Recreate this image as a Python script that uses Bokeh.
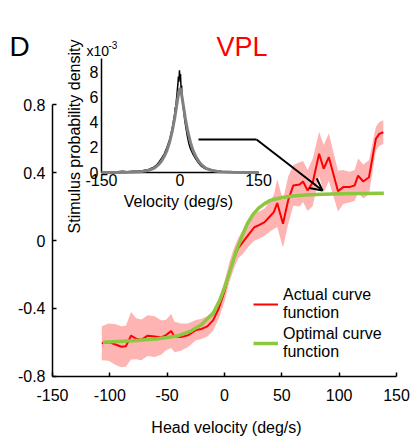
import math
from bokeh.plotting import figure
from bokeh.models import (Range1d, LinearAxis, FixedTicker, Label, Arrow, OpenHead,
                          Legend, LegendItem)
from bokeh.embed import file_html
from bokeh.resources import INLINE

FONT = "Liberation Sans"

# ---------------- data ----------------
# main panel: actual tuning curve (mean) and its band half-width
act_x = [-107, -101, -95, -90, -86, -81.5, -77, -72.5, -67, -61, -55, -51, -46.5, -43.5,
         -38, -32, -25, -20, -15, -10, -5, 0, 4.5, 8.5, 12, 16, 21.5, 26, 30.5, 35, 39.5,
         43, 46, 51, 55.5, 60, 65.5, 68.5, 72.5, 77, 82.5, 86.5, 91, 99, 103.5, 109,
         113.5, 116.5, 121, 126, 132, 135, 138.5]
act_y = [-0.604, -0.598, -0.612, -0.625, -0.622, -0.56, -0.578, -0.585, -0.56, -0.565,
         -0.57, -0.556, -0.533, -0.568, -0.568, -0.558, -0.527, -0.52, -0.505, -0.47,
         -0.40, -0.30, -0.18, -0.10, -0.045, -0.01, 0.039, 0.078, 0.092, 0.108, 0.141,
         0.167, 0.22, 0.098, 0.235, 0.324, 0.33, 0.347, 0.294, 0.343, 0.51, 0.422, 0.49,
         0.29, 0.314, 0.314, 0.324, 0.382, 0.347, 0.372, 0.598, 0.627, 0.637]
act_err = [0.10, 0.11, 0.12, 0.12, 0.12, 0.14, 0.12, 0.12, 0.12, 0.12, 0.10, 0.09, 0.10,
           0.09, 0.08, 0.07, 0.06, 0.06, 0.06, 0.06, 0.06, 0.06, 0.06, 0.06, 0.06, 0.07,
           0.07, 0.08, 0.08, 0.08, 0.09, 0.10, 0.14, 0.14, 0.14, 0.12, 0.13, 0.12, 0.12,
           0.14, 0.13, 0.14, 0.14, 0.12, 0.10, 0.09, 0.09, 0.10, 0.10, 0.10, 0.07, 0.07, 0.07]

# optimal tuning curve
opt_x = [-106, -80, -60, -50, -40, -30, -25, -20, -15, -10, -5, 0, 5, 10, 15, 20, 25, 30,
         35, 40, 50, 60, 70, 80, 100, 120, 139]
opt_y = [-0.598, -0.59, -0.58, -0.571, -0.56, -0.535, -0.515, -0.495, -0.46, -0.43, -0.365,
         -0.28, -0.175, -0.065, 0.022, 0.1, 0.155, 0.192, 0.217, 0.236, 0.253, 0.262,
         0.267, 0.271, 0.275, 0.277, 0.278]

# inset: stimulus velocity distribution (x10^-3)
hist_x = [-150, -140, -130, -120, -110, -100, -90, -80, -70, -60, -50, -45, -40, -35, -30,
          -25, -20, -17, -14, -12, -10, -9, -8, -7, -6, -5, -4, -3, -2, -1, 0, 1, 2, 3, 4,
          5, 6, 7, 8, 9, 10, 12, 14, 17, 20, 25, 30, 35, 40, 45, 50, 60, 70, 80, 90, 100,
          110, 120, 130, 140, 150]
hist_y = [0.04, 0.06, 0.05, 0.08, 0.12, 0.09, 0.13, 0.15, 0.18, 0.27, 0.45, 0.6, 0.85,
          1.15, 1.5, 2.0, 2.6, 3.1, 3.7, 4.2, 4.7, 5.2, 5.0, 5.7, 6.1, 6.6, 7.0, 7.6, 7.2,
          8.1, 7.4, 7.8, 6.6, 6.9, 6.0, 5.6, 5.2, 4.9, 4.6, 4.2, 3.9, 3.4, 2.9, 2.3, 1.9,
          1.45, 1.1, 0.8, 0.55, 0.4, 0.3, 0.2, 0.14, 0.1, 0.08, 0.07, 0.05, 0.05, 0.04,
          0.03, 0.02]
fit_x = [-150, -120, -100, -80, -70, -60, -50, -45, -40, -35, -30, -25, -20, -15, -10, -7,
         -4, -2, 0, 2, 4, 7, 10, 15, 20, 25, 30, 35, 40, 45, 50, 60, 70, 80, 100, 120, 150]
fit_y = [0.02, 0.03, 0.05, 0.08, 0.12, 0.2, 0.35, 0.5, 0.68, 0.95, 1.3, 1.75, 2.4, 3.25,
         4.35, 5.15, 5.95, 6.45, 6.7, 6.45, 5.95, 5.15, 4.35, 3.25, 2.4, 1.75, 1.3, 0.95,
         0.68, 0.5, 0.35, 0.2, 0.12, 0.08, 0.05, 0.03, 0.02]

main_xticks = [-150, -100, -50, 0, 50, 100, 150]
main_yticks = [-0.8, -0.4, 0, 0.4, 0.8]
main_ylabels = ["-0.8", "-0.4", "0", "0.4", "0.8"]
inset_xticks = [-150, 0, 150]
inset_yticks = [0, 2, 4, 6, 8]

# ---------------- figure (frame covers the whole canvas) ----------------
W, H = 414, 440
p = figure(width=W, height=H, output_backend="svg", toolbar_location=None,
           x_axis_location=None, y_axis_location=None,
           x_range=Range1d(-195.35, 165.70), y_range=Range1d(-1.1765, 1.4118),
           min_border=0, min_border_left=0, min_border_right=0, min_border_top=0,
           min_border_bottom=0)
p.outline_line_color = None
p.grid.visible = False
p.background_fill_color = "white"
p.border_fill_color = "white"
p.extra_x_ranges = {"ix": Range1d(-343.0, 448.1)}
p.extra_y_ranges = {"iy": Range1d(-21.145, 13.610)}


def style_axis(ax, size="16px", tin=4, standoff=7):
    ax.axis_line_color = "black"
    ax.axis_line_width = 1.5
    ax.major_tick_line_color = "black"
    ax.major_tick_line_width = 1.5
    ax.major_tick_in = tin
    ax.major_tick_out = 0
    ax.minor_tick_line_color = None
    ax.major_label_text_font = FONT
    ax.major_label_text_font_size = size
    ax.major_label_text_color = "black"
    ax.major_label_standoff = standoff


# main axes
xa = LinearAxis(fixed_location=-0.8, bounds=(-150, 150),
                ticker=FixedTicker(ticks=main_xticks))
style_axis(xa, standoff=13)
xa.major_label_overrides = {t: str(t) for t in main_xticks}
p.add_layout(xa, "below")

ya = LinearAxis(fixed_location=-150, bounds=(-0.8, 0.8),
                ticker=FixedTicker(ticks=main_yticks))
style_axis(ya, standoff=7)
ya.major_label_overrides = {t: l for t, l in zip(main_yticks, main_ylabels)}
p.add_layout(ya, "left")

# band + curves
lower = [y - e for y, e in zip(act_y, act_err)]
upper = [y + e for y, e in zip(act_y, act_err)]
p.varea(x=act_x, y1=lower, y2=upper, fill_color="#ffb4b4", fill_alpha=1.0)
red_r = p.line(act_x, act_y, line_color="#ff0000", line_width=2)
green_r = p.line(opt_x, opt_y, line_color="#8dc63f", line_width=3.5)

# ---------------- inset ----------------
p.line(hist_x, hist_y, x_range_name="ix", y_range_name="iy",
       line_color="black", line_width=1.5)
p.line(fit_x, fit_y, x_range_name="ix", y_range_name="iy",
       line_color="#808080", line_width=3)

iax = LinearAxis(x_range_name="ix", y_range_name="iy", fixed_location=0,
                 bounds=(-150, 150), ticker=FixedTicker(ticks=inset_xticks),
                 level="underlay")
style_axis(iax, tin=0, standoff=1)
iax.major_label_overrides = {t: str(t) for t in inset_xticks}
p.add_layout(iax, "below")

iay = LinearAxis(x_range_name="ix", y_range_name="iy", fixed_location=-150,
                 bounds=(0, 9), ticker=FixedTicker(ticks=inset_yticks),
                 level="underlay")
style_axis(iay, tin=0, standoff=3)
iay.major_label_overrides = {t: str(t) for t in inset_yticks}
p.add_layout(iay, "left")

# ---------------- text annotations ----------------
def X(px):
    return -150 + (px - 52) * 300 / 344


def Y(py):
    return -0.8 + (376 - py) / 170


def lab(text, px, py, size, color="black", align="left", baseline="alphabetic", angle=0):
    p.add_layout(Label(x=X(px), y=Y(py), text=text, text_font=FONT,
                       text_font_size=size, text_color=color, text_align=align,
                       text_baseline=baseline, angle=angle))


lab("D", 9, 46, "28px")
lab("VPL", 216, 46, "27px", color="#ff0000")
lab("x10", 86, 50, "14px")
lab("-3", 108, 44, "10px")
lab("Velocity (deg/s)", 178, 201, "16px", align="center")
lab("Stimulus probability density", 74, 136, "16px", align="center",
    baseline="middle", angle=math.pi / 2)
lab("Head velocity (deg/s)", 226, 427, "16px", align="center")

# arrow from inset to plateau
p.add_layout(Arrow(x_start=X(198), y_start=Y(139), x_end=X(256), y_end=Y(139),
                   end=None, line_color="black", line_width=2))
p.add_layout(Arrow(x_start=X(256), y_start=Y(139), x_end=X(322), y_end=Y(190),
                   end=OpenHead(size=12, line_width=2, line_color="black"),
                   line_color="black", line_width=2))

# ---------------- legend ----------------
legend = Legend(items=[LegendItem(label="Actual curve\nfunction", renderers=[red_r]),
                       LegendItem(label="Optimal curve\nfunction", renderers=[green_r])],
                location=(253, 79), background_fill_alpha=0, border_line_color=None,
                padding=0, margin=0, spacing=3, glyph_width=25, glyph_height=20,
                label_standoff=5, label_text_font=FONT, label_text_font_size="16px",
                label_text_color="black", label_text_line_height=1.2)
p.add_layout(legend)

open("out.html", "w").write(file_html(p, INLINE))
